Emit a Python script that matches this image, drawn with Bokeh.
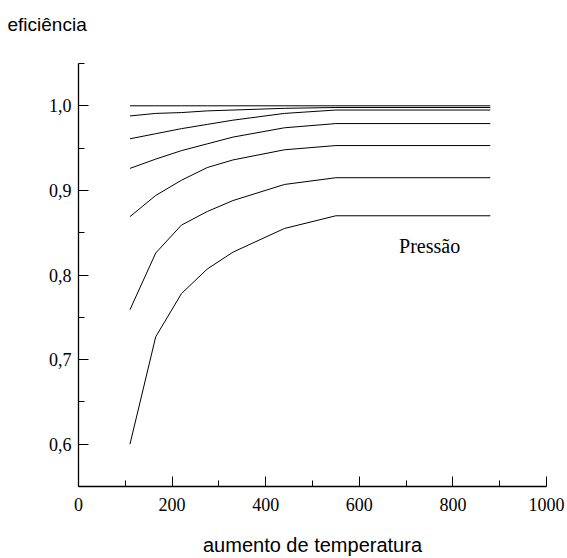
from bokeh.plotting import figure
from bokeh.models import FixedTicker, CustomJSTickFormatter, Label, Range1d, Title
from bokeh.embed import file_html
from bokeh.resources import INLINE

# temperature rise (x) sample points
temp = [110, 165, 220, 275, 330, 440, 550, 880]

# efficiency curves, one per pressure level (top to bottom)
eff_1 = [1.000, 1.000, 1.000, 1.000, 1.000, 1.000, 1.000, 1.000]
eff_2 = [0.988, 0.991, 0.992, 0.994, 0.995, 0.997, 0.998, 0.998]
eff_3 = [0.961, 0.967, 0.973, 0.978, 0.983, 0.991, 0.995, 0.995]
eff_4 = [0.926, 0.937, 0.947, 0.955, 0.963, 0.974, 0.979, 0.979]
eff_5 = [0.869, 0.894, 0.912, 0.927, 0.936, 0.948, 0.953, 0.953]
eff_6 = [0.759, 0.826, 0.859, 0.875, 0.888, 0.907, 0.915, 0.915]
eff_7 = [0.600, 0.727, 0.778, 0.807, 0.827, 0.855, 0.870, 0.870]
curves = [eff_1, eff_2, eff_3, eff_4, eff_5, eff_6, eff_7]

x_ticks = [0, 200, 400, 600, 800, 1000]
x_minor = [100, 300, 500, 700, 900]
y_ticks = [0.6, 0.7, 0.8, 0.9, 1.0]
y_minor = [0.55, 0.65, 0.75, 0.85, 0.95, 1.05]

p = figure(width=567, height=558, output_backend="svg", toolbar_location=None,
           x_range=Range1d(0, 1000), y_range=Range1d(0.55, 1.05),
           min_border_left=78, min_border_right=21, min_border_top=63,
           min_border_bottom=69)
p.title.text = ""
p.outline_line_color = None
p.xgrid.visible = False
p.ygrid.visible = False
p.background_fill_color = "white"
p.border_fill_color = "white"

# spacer panel next to the frame, then the real heading above it
p.add_layout(Title(text=" ", text_font="Liberation Sans", text_font_size="19px",
                   standoff=0), "above")
p.add_layout(Title(text="eficiência", align="left", offset=-71, standoff=11,
                   text_font="Liberation Sans", text_font_size="19px",
                   text_font_style="normal", text_color="black"), "above")

for c in curves:
    p.line(temp, c, line_color="black", line_width=1)

tick_font = "Liberation Sans Narrow"
for ax, ticks, minor in ((p.xaxis[0], x_ticks, x_minor), (p.yaxis[0], y_ticks, y_minor)):
    ax.ticker = FixedTicker(ticks=ticks, minor_ticks=minor)
    ax.axis_line_color = "black"
    ax.axis_line_width = 1.3
    ax.major_tick_line_color = "black"
    ax.minor_tick_line_color = "black"
    ax.major_tick_in = 10
    ax.major_tick_out = 0
    ax.minor_tick_in = 6
    ax.minor_tick_out = 0
    ax.major_label_text_font = tick_font
    ax.major_label_text_font_size = "18px"
    ax.major_label_text_color = "black"

p.yaxis[0].formatter = CustomJSTickFormatter(code="return tick.toFixed(1).replace('.', ',');")
p.xaxis[0].formatter = CustomJSTickFormatter(code="return tick.toFixed(0);")
p.xaxis[0].major_label_standoff = 11
p.yaxis[0].major_label_standoff = 7

p.xaxis[0].axis_label = "aumento de temperatura"
p.xaxis[0].axis_label_text_font = "Liberation Sans"
p.xaxis[0].axis_label_text_font_size = "20px"
p.xaxis[0].axis_label_text_font_style = "normal"
p.xaxis[0].axis_label_text_color = "black"
p.xaxis[0].axis_label_standoff = 20

p.add_layout(Label(x=685, y=0.821, text="Pressão", text_font="Liberation Serif",
                   text_font_size="20px", text_color="black"))

open("out.html", "w").write(file_html(p, INLINE))
